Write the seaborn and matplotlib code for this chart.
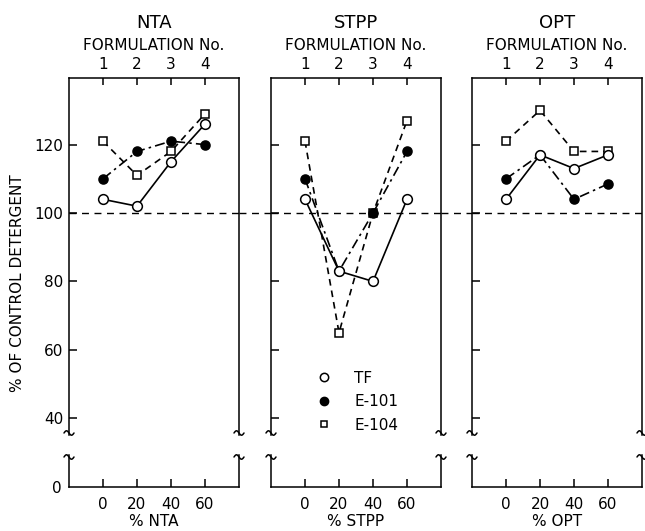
import numpy as np
import pandas as pd
import matplotlib
matplotlib.use('Agg')
import matplotlib.pyplot as plt
import matplotlib.transforms as mtransforms
from matplotlib.lines import Line2D
import seaborn as sns

sns.set_theme(style='white')
plt.rcParams['font.family'] = ['Liberation Sans Narrow', 'DejaVu Sans']
plt.rcParams['axes.linewidth'] = 1.1
plt.rcParams['text.color'] = 'black'
plt.rcParams['axes.labelcolor'] = 'black'
plt.rcParams['axes.titlecolor'] = 'black'

# data
pct = [0, 20, 40, 60]
formulation = ['1', '2', '3', '4']
panels = ['NTA', 'STPP', 'OPT']

tf = {'NTA': [104, 102, 115, 126],
      'STPP': [104, 83, 80, 104],
      'OPT': [104, 117, 113, 117]}
e101 = {'NTA': [110, 118, 121, 120],
        'STPP': [110, 83, 100, 118],
        'OPT': [110, 117, 104, 108.5]}
e104 = {'NTA': [121, 111, 118, 129],
        'STPP': [121, 65, 100, 127],
        'OPT': [121, 130, 118, 118]}

W, H = 645, 531
fig = plt.figure(figsize=(W / 100, H / 100), dpi=100)


def rect(left, top, width, height):
    return [left / W, (H - top - height) / H, width / W, height / H]


lefts = [69, 271, 472]
pw = 170
up_top, up_bot = 78, 435
lo_top, lo_bot = 455, 487
px_per_unit = 3.42
up_ylim = (100 - (up_bot - 213) / px_per_unit, 100 + (213 - up_top) / px_per_unit)
lo_ylim = (0, (lo_bot - lo_top) / px_per_unit)

series = [
    ('E-104', e104, dict(linestyle=(0, (4, 3)), marker='s', markersize=5.5,
                         markerfacecolor='white', zorder=3)),
    ('E-101', e101, dict(linestyle=(0, (6, 2.5, 1.5, 2.5)), marker='o', markersize=6.5,
                         markerfacecolor='black', zorder=4)),
    ('TF', tf, dict(linestyle='-', marker='o', markersize=7,
                    markerfacecolor='white', zorder=5)),
]

axes_up = []
for i, (name, left) in enumerate(zip(panels, lefts)):
    ax = fig.add_axes(rect(left, up_top, pw, up_bot - up_top))
    axl = fig.add_axes(rect(left, lo_top, pw, lo_bot - lo_top))
    axes_up.append(ax)

    for lab, d, kw in series:
        df = pd.DataFrame({'pct': pct, 'val': d[name]})
        sns.lineplot(data=df, x='pct', y='val', ax=ax, color='black',
                     linewidth=1.2, markeredgecolor='black', markeredgewidth=1.1,
                     **kw)

    ax.axhline(100, color='black', linewidth=1.0, linestyle=(0, (5, 4)), zorder=1)

    for a in (ax, axl):
        a.set_xlim(-20, 80)
        a.set_xlabel('')
        a.set_ylabel('')
        a.set_facecolor('white')
        for s in a.spines.values():
            s.set_color('black')
    ax.set_ylim(*up_ylim)
    axl.set_ylim(*lo_ylim)
    ax.spines['bottom'].set_visible(False)
    axl.spines['top'].set_visible(False)

    ax.set_xticks([])
    ax.set_yticks([40, 60, 80, 100, 120])
    ax.tick_params(axis='y', direction='in', length=6, width=1.1, left=True,
                   labelsize=11, pad=4, colors='black')
    axl.set_yticks([0])
    axl.tick_params(axis='y', direction='in', length=0, left=True,
                    labelsize=11, pad=5, colors='black')
    if i > 0:
        ax.set_yticklabels([])
        axl.set_yticklabels([])

    axl.set_xticks(pct)
    axl.set_xticklabels([str(p) for p in pct])
    axl.tick_params(axis='x', direction='in', length=6, width=1.1, bottom=True,
                    labelsize=11, pad=7, colors='black')
    axl.set_xlabel('% ' + name, fontsize=11, labelpad=2)

    top = ax.secondary_xaxis('top')
    top.set_xticks(pct)
    top.set_xticklabels(formulation)
    top.tick_params(axis='x', direction='in', length=5, width=1.1,
                    labelsize=11, pad=4, colors='black')
    top.spines['top'].set_visible(False)
    top.set_xlabel('FORMULATION No.', fontsize=11, labelpad=5)
    ax.set_title(name, fontsize=13, pad=36)

    # axis break marks on both sides
    ts = np.linspace(-5, 5, 30)
    for xs in (left, left + pw):
        for ys in (up_bot - 2, lo_top + 2):
            fig.add_artist(Line2D((xs + ts) / W, (H - ys - 2.2 * np.sin(np.pi * ts / 5)) / H,
                                  transform=fig.transFigure, color='black', linewidth=1.1))

# dashed 100 line continues across the gaps
ax0 = axes_up[0]
tr = mtransforms.blended_transform_factory(fig.transFigure, ax0.transData)
for a, b in [(lefts[0] + pw, lefts[1]), (lefts[1] + pw, lefts[2])]:
    ax0.plot([a / W, b / W], [100, 100], transform=tr, color='black',
             linewidth=1.0, linestyle=(0, (5, 4)), clip_on=False)

fig.text(18 / W, 1 - 283 / H, '% OF CONTROL DETERGENT', rotation=90,
         ha='center', va='center', fontsize=11)

handles = [
    Line2D([], [], linestyle='none', marker='o', markersize=6, markerfacecolor='white',
           markeredgecolor='black', markeredgewidth=1.1, label='TF'),
    Line2D([], [], linestyle='none', marker='o', markersize=6, markerfacecolor='black',
           markeredgecolor='black', label='E-101'),
    Line2D([], [], linestyle='none', marker='s', markersize=5, markerfacecolor='white',
           markeredgecolor='black', markeredgewidth=1.1, label='E-104'),
]
axes_up[1].legend(handles=handles, loc='upper left', bbox_to_anchor=(0.265, 0.18),
                  frameon=False, fontsize=11, handlelength=1.0, handletextpad=1.5,
                  labelspacing=0.55, borderpad=0, borderaxespad=0)

fig.savefig('out.png', dpi=100, facecolor='white')
